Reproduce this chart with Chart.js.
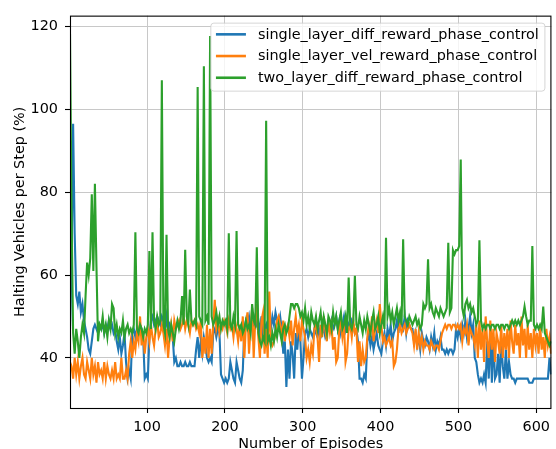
<!DOCTYPE html>
<html>
<head>
<meta charset="utf-8">
<script src="https://cdn.jsdelivr.net/npm/chart.js@4.4.0/dist/chart.umd.min.js"></script>
<style>
  html, body { margin: 0; padding: 0; background: #fff; }
</style>
</head>
<body>
<canvas id="myChart" width="556" height="449"></canvas>
<script>
const seriesNames = [
  "single_layer_diff_reward_phase_control",
  "single_layer_vel_reward_phase_control",
  "two_layer_diff_reward_phase_control",
];
const seriesColors = ["#1f77b4", "#ff7f0e", "#2ca02c"];
const xTicks = [100, 200, 300, 400, 500, 600];
const yTicks = [40, 60, 80, 100, 120];
const firstEpisode = 1;
const episodeStep = 2; // one value read every 2 episodes

// halting vehicles per step (%)
const singleLayerDiff = [
  47, 62, 96.5, 70, 55, 53, 56, 51, 53, 49,
  47, 45, 42, 41, 44, 47, 48, 47, 46, 48,
  47, 48, 46, 48, 47, 49, 47, 48, 46, 47,
  44, 42, 45, 41, 43, 46, 39, 35, 37, 35,
  46, 47, 45, 47, 46, 48, 47, 45, 35, 36,
  35, 45, 49, 50, 48, 49, 50, 49, 48, 50,
  49, 47, 50, 46, 48, 47, 45, 39, 40, 38,
  38, 39, 38, 38, 39, 38, 38, 39, 38, 38,
  38, 42, 45, 40, 44, 41, 45, 43, 40, 39,
  40, 39, 46, 47, 45, 47, 46, 36, 35, 34,
  35, 34, 35, 39, 37, 35, 34, 39, 37, 35,
  34, 37, 47, 49, 48, 50, 47, 49, 48, 50,
  48, 49, 46, 50, 44, 47, 48, 45, 49, 47,
  50, 48, 51, 49, 48, 50, 47, 41, 44, 33,
  42, 35, 44, 41, 35, 46, 42, 47, 44, 35,
  40, 46, 47, 45, 47, 46, 45, 47, 46, 45,
  47, 45, 46, 47, 45, 46, 48, 47, 49, 47,
  48, 50, 47, 49, 46, 48, 50, 47, 49, 48,
  47, 49, 48, 46, 47, 44, 35, 35, 34, 36,
  35, 44, 46, 43, 45, 42, 44, 46, 43, 42,
  41, 44, 46, 43, 47, 45, 48, 44, 46, 47,
  49, 46, 51, 48, 47, 50, 46, 49, 48, 47,
  47, 44, 46, 43, 45, 42, 46, 44, 43, 45,
  44, 42, 45, 43, 46, 42, 44, 43, 45, 42,
  42, 41, 42, 41, 42, 42, 41, 42, 47, 45,
  47, 45, 48, 46, 49, 45, 47, 50, 46, 48,
  40, 39, 36, 34, 35, 34, 36, 34, 44, 35,
  47, 34, 45, 35, 36, 41, 34, 44, 38, 35,
  42, 35, 39, 36, 35, 35, 34, 35, 35, 35,
  35, 35, 35, 35, 35, 34, 34, 34, 35, 35,
  35, 35, 35, 35, 35, 35, 35, 35, 40, 36,
];

const singleLayerVel = [
  39, 38, 35, 40, 36, 39, 35, 38, 40, 36,
  35, 39, 37, 35, 40, 36, 38, 34, 39, 36,
  37, 35, 39, 35, 38, 36, 35, 37, 35, 39,
  35, 36, 35, 40, 35, 35, 37, 35, 41, 44,
  40, 44, 42, 46, 44, 50, 43, 46, 41, 45,
  47, 44, 48, 45, 43, 47, 49, 45, 46, 48,
  46, 43, 47, 40, 45, 48, 44, 49, 47, 48,
  49, 47, 48, 50, 47, 49, 48, 46, 49, 48,
  49, 47, 48, 46, 49, 40, 45, 41, 48, 40,
  47, 41, 48, 54, 47, 49, 46, 48, 47, 49,
  48, 46, 49, 47, 48, 45, 49, 47, 44, 48,
  44, 50, 40, 48, 51, 41, 47, 52, 40, 49,
  53, 45, 40, 49, 51, 41, 47, 40, 56, 44,
  43, 44, 46, 49, 50, 48, 45, 49, 44, 47,
  48, 45, 49, 43, 47, 50, 46, 48, 44, 49,
  47, 45, 40, 42, 39, 43, 41, 47, 49, 45,
  39, 48, 45, 50, 47, 44, 49, 46, 48, 42,
  45, 39, 40, 47, 49, 45, 48, 39, 41, 47,
  48, 45, 49, 46, 47, 39, 44, 38, 42, 39,
  40, 45, 48, 46, 50, 44, 47, 49, 46, 53,
  48, 44, 45, 43, 44, 45, 43, 44, 38, 39,
  42, 47, 48, 46, 47, 48, 46, 47, 48, 47,
  46, 43, 47, 42, 46, 43, 45, 42, 44, 43,
  43, 42, 44, 43, 42, 43, 43, 42, 44, 46,
  47, 48, 47, 48, 48, 47, 48, 48, 47, 48,
  47, 48, 44, 47, 46, 48, 43, 47, 46, 45,
  43, 48, 40, 49, 42, 47, 39, 50, 44, 40,
  49, 42, 47, 39, 46, 44, 41, 48, 40, 46,
  42, 47, 40, 49, 44, 41, 48, 43, 46, 40,
  50, 43, 47, 40, 48, 42, 46, 40, 47, 43,
  46, 41, 48, 42, 45, 40, 47, 43, 45, 41,
];

const twoLayerDiff = [
  118.3, 75, 46, 41, 47, 44, 40, 45, 48, 46,
  55, 63, 60, 64, 79.5, 61, 82, 62, 44, 48,
  47, 50, 46, 48, 45, 49, 47, 53, 52, 46,
  48, 45, 47, 46, 49, 45, 47, 48, 46, 47,
  46, 48, 70.3, 47, 46, 48, 47, 45, 47, 46,
  48, 65.8, 47, 70.3, 49, 47, 50, 48, 49, 107,
  48, 46, 69.7, 47, 45, 48, 46, 44, 47, 49,
  47, 49, 54.9, 48, 66.1, 50, 48, 56.5, 49, 48,
  49, 48, 105.4, 50, 49, 48, 110.4, 49, 50, 48,
  117.7, 50, 48, 49, 51, 48, 50, 47, 49, 48,
  49, 47, 70.1, 48, 47, 50, 48, 70.6, 48, 47,
  48, 46, 47, 49, 47, 48, 46, 53, 49, 48,
  66.7, 46, 44, 43, 45, 44, 97.2, 44, 45, 43,
  46, 44, 47, 45, 48, 46, 44, 47, 48, 46,
  47, 50, 53, 53, 52, 53, 53, 52, 50, 51,
  49, 52, 48, 50, 47, 51, 49, 48, 50, 47,
  49, 51, 47, 50, 48, 46, 50, 49, 47, 51,
  48, 50, 47, 49, 51, 47, 48, 50, 46, 59.4,
  48, 47, 49, 59.8, 48, 47, 50, 48, 46, 49,
  47, 50, 48, 46, 49, 51, 47, 48, 50, 46,
  48, 50, 47, 69, 50, 52, 49, 51, 48, 50,
  52, 49, 51, 48, 68.6, 50, 49, 48, 50, 49,
  48, 49, 50, 48, 49, 47, 48, 53, 52, 53,
  63.8, 52, 53, 51, 50, 52, 51, 50, 52, 51,
  50, 51, 52, 67.8, 51, 52, 66, 65, 66, 66,
  67, 87.9, 52, 50, 53, 54, 52, 53, 51, 52,
  50, 48, 49, 68.4, 49, 47, 48, 47, 48, 48,
  47, 48, 48, 47, 48, 48, 47, 48, 48, 47,
  48, 48, 47, 48, 49, 48, 49, 48, 49, 48,
  49, 50, 52.4, 50, 48, 49, 49, 67, 48, 47,
  48, 47, 48, 47, 52.4, 46, 45, 44, 43, 44,
];

const allSeries = [singleLayerDiff, singleLayerVel, twoLayerDiff];
const fontFamily = "'DejaVu Sans', sans-serif";
const fontSize = 14.4;

// black box round the plot and the legend in the upper right corner
const frameAndLegend = {
  id: "frameAndLegend",
  afterDatasetsDraw(chart) {
    const ctx = chart.ctx;
    const a = chart.chartArea;
    ctx.save();
    ctx.strokeStyle = "#000";
    ctx.lineWidth = 1.1;
    ctx.strokeRect(a.left + 0.5, a.top + 0.5, a.right - a.left - 1, a.bottom - a.top);

    ctx.font = fontSize + "px " + fontFamily;
    const textW = Math.max(...chart.data.datasets.map((d) => ctx.measureText(d.label).width));
    const pad = 5.6, handle = 30, gap = 12, rowH = 21.7;
    const boxRight = a.right - 7;
    const boxTop = a.top + 7;
    const boxLeft = boxRight - (pad * 2 + handle + gap + textW);
    const boxBottom = boxTop + 68;
    ctx.beginPath();
    ctx.roundRect(boxLeft + 0.5, boxTop + 0.5, boxRight - boxLeft, boxBottom - boxTop, 3);
    ctx.fillStyle = "rgba(255,255,255,0.8)";
    ctx.fill();
    ctx.strokeStyle = "rgba(204,204,204,0.8)";
    ctx.lineWidth = 1;
    ctx.stroke();

    chart.data.datasets
      .slice()
      .sort((p, q) => p.legendIndex - q.legendIndex)
      .forEach((d, i) => {
        const y = boxTop + 11.7 + i * rowH;
        const x0 = boxLeft + pad;
        ctx.beginPath();
        ctx.moveTo(x0, y);
        ctx.lineTo(x0 + handle, y);
        ctx.strokeStyle = d.borderColor;
        ctx.lineWidth = 2.6;
        ctx.stroke();
        ctx.fillStyle = "#000";
        ctx.textBaseline = "middle";
        ctx.fillText(d.label, x0 + handle + gap, y + 0.5);
      });
    ctx.restore();
  },
};

new Chart(document.getElementById("myChart"), {
  type: "line",
  data: {
    datasets: allSeries.map((values, i) => ({
      label: seriesNames[i],
      legendIndex: i,
      order: allSeries.length - i,
      data: values.map((v, k) => ({ x: firstEpisode + k * episodeStep, y: v })),
      borderColor: seriesColors[i],
      backgroundColor: seriesColors[i],
      borderWidth: 2.1,
      pointRadius: 0,
      tension: 0,
      fill: false,
    })),
  },
  options: {
    responsive: false,
    animation: false,
    devicePixelRatio: 1,
    layout: { padding: { top: 13, right: 1, bottom: 0, left: 0 } },
    plugins: {
      legend: { display: false },
      tooltip: { enabled: false },
    },
    scales: {
      x: {
        type: "linear",
        min: 1,
        max: 619.5,
        afterBuildTicks: (scale) => {
          scale.ticks = xTicks.map((v) => ({ value: v }));
        },
        afterFit: (scale) => {
          scale.height = 41;
        },
        border: { display: false },
        grid: {
          color: "#c8c8c8",
          lineWidth: 1,
          tickLength: 5,
          tickColor: "#000",
          tickWidth: 1.1,
        },
        ticks: {
          color: "#000",
          padding: 6,
          maxRotation: 0,
          font: { family: fontFamily, size: fontSize },
          callback: (v) => String(v),
        },
        title: {
          display: true,
          text: "Number of Episodes",
          color: "#000",
          padding: { top: 0, bottom: 0 },
          font: { family: fontFamily, size: fontSize, lineHeight: 0.6 },
        },
      },
      y: {
        min: 27.9,
        max: 122.6,
        afterBuildTicks: (scale) => {
          scale.ticks = yTicks.map((v) => ({ value: v }));
        },
        afterFit: (scale) => {
          scale.width = 70;
        },
        border: { display: false },
        grid: {
          color: "#c8c8c8",
          lineWidth: 1,
          tickLength: 5,
          tickColor: "#000",
          tickWidth: 1.1,
        },
        ticks: {
          color: "#000",
          padding: 7,
          font: { family: fontFamily, size: fontSize },
          callback: (v) => String(v),
        },
        title: {
          display: true,
          text: "Halting Vehicles per Step (%)",
          color: "#000",
          padding: { top: 12, bottom: 0 },
          font: { family: fontFamily, size: fontSize },
        },
      },
    },
  },
  plugins: [frameAndLegend],
});
</script>
</body>
</html>
